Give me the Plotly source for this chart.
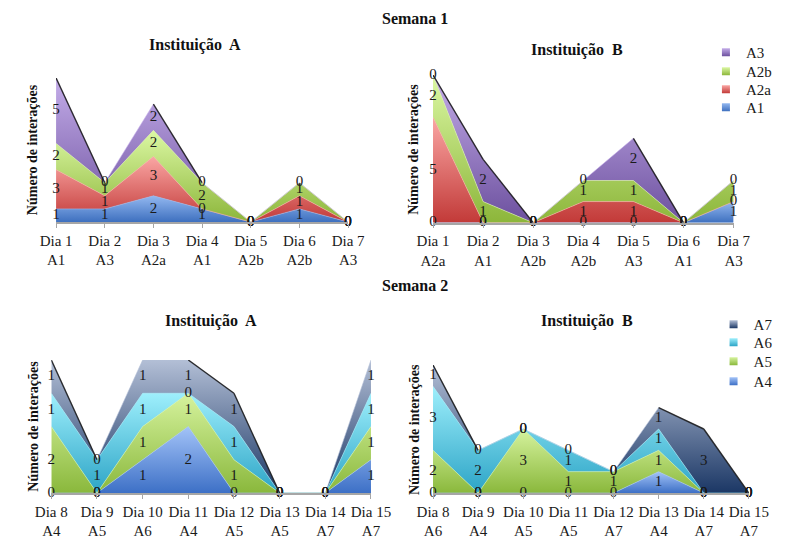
import plotly.graph_objects as go

# ---- categories ----
week1_days = ["Dia 1", "Dia 2", "Dia 3", "Dia 4", "Dia 5", "Dia 6", "Dia 7"]
week1_acts_a = ["A1", "A3", "A2a", "A1", "A2b", "A2b", "A3"]
week1_acts_b = ["A2a", "A1", "A2b", "A2b", "A3", "A1", "A3"]

week2_days = ["Dia 8", "Dia 9", "Dia 10", "Dia 11", "Dia 12", "Dia 13", "Dia 14", "Dia 15"]
week2_acts_a = ["A4", "A5", "A6", "A4", "A5", "A5", "A7", "A7"]
week2_acts_b = ["A6", "A4", "A5", "A5", "A7", "A4", "A7", "A7"]

# ---- Semana 1 series ----
week1_series = ["A1", "A2a", "A2b", "A3"]
w1_a_A1 = [1, 1, 2, 1, 0, 1, 0]
w1_a_A2a = [3, 1, 3, 0, 0, 1, 0]
w1_a_A2b = [2, 1, 2, 2, 0, 1, 0]
w1_a_A3 = [5, 0, 2, 0, 0, 0, 0]

w1_b_A1 = [0, 0, 0, 0, 0, 0, 1]
w1_b_A2a = [5, 0, 0, 1, 1, 0, 0]
w1_b_A2b = [2, 1, 0, 1, 1, 0, 1]
w1_b_A3 = [0, 2, 0, 0, 2, 0, 0]

# ---- Semana 2 series ----
week2_series = ["A4", "A5", "A6", "A7"]
w2_a_A4 = [0, 0, 1, 2, 0, 0, 0, 1]
w2_a_A5 = [2, 0, 1, 1, 1, 0, 0, 1]
w2_a_A6 = [1, 1, 1, 0, 1, 0, 0, 1]
w2_a_A7 = [1, 0, 1, 1, 1, 0, 0, 1]

w2_b_A4 = [0, 0, 0, 0, 0, 1, 0, 0]
w2_b_A5 = [2, 0, 3, 1, 1, 1, 0, 0]
w2_b_A6 = [3, 2, 0, 1, 0, 1, 0, 0]
w2_b_A7 = [1, 0, 0, 0, 0, 1, 3, 0]

# gradient colours per series: (dark bottom, light top)
week1_colors = [("#3e70bf", "#93b8f0"), ("#c23a38", "#faa6a4"),
                ("#8cb63a", "#dcf8a4"), ("#6c509e", "#c4ade9")]
week2_colors = [("#3d70c6", "#a3c3f8"), ("#8ab83c", "#d6f39e"),
                ("#2ca4c6", "#9eeffc"), ("#1b3765", "#b3bfd6")]

SERIF = "'Liberation Serif', 'Times New Roman', 'DejaVu Serif', serif"
W, H = 787, 539

fig = go.Figure()


def px_x(p):
    return p / W


def px_y(p):
    return 1 - p / H


panels = [
    dict(ax="", days=week1_days, acts=week1_acts_a, names=week1_series,
         values=[w1_a_A1, w1_a_A2a, w1_a_A2b, w1_a_A3], colors=week1_colors,
         xdom=(42, 348), ydom=(222, 78), ytitle_x=18, legend=None),
    dict(ax="2", days=week1_days, acts=week1_acts_b, names=week1_series,
         values=[w1_b_A1, w1_b_A2a, w1_b_A2b, w1_b_A3], colors=week1_colors,
         xdom=(437, 752), ydom=(222.7, 75), ytitle_x=417,
         legend=dict(x=723, ys=[108, 90, 72, 53])),
    dict(ax="3", days=week2_days, acts=week2_acts_a, names=week2_series,
         values=[w2_a_A4, w2_a_A5, w2_a_A6, w2_a_A7], colors=week2_colors,
         xdom=(37, 372), ydom=(493, 360), ytitle_x=18, legend=None),
    dict(ax="4", days=week2_days, acts=week2_acts_b, names=week2_series,
         values=[w2_b_A4, w2_b_A5, w2_b_A6, w2_b_A7], colors=week2_colors,
         xdom=(437, 768), ydom=(493, 365), ytitle_x=417,
         legend=dict(x=731, ys=[382, 362, 343, 325])),
]

legend_style = dict(font=dict(family=SERIF, size=15, color="#1a1a1a"),
                    bgcolor="rgba(0,0,0,0)", itemwidth=30,
                    xanchor="left", yanchor="top")
legend_layouts = {}
annotations = []
legend_count = 0

for p in panels:
    xa, ya = "x" + p["ax"], "y" + p["ax"]
    n = len(p["days"])
    xs = list(range(n))
    group = "stack" + (p["ax"] or "1")
    cum = [0] * n
    lab_x, lab_y, lab_t = [], [], []
    for name, vals, (dark, light) in zip(p["names"], p["values"], p["colors"]):
        fig.add_trace(go.Scatter(
            x=xs, y=vals, stackgroup=group, mode="lines",
            line=dict(width=0.6, color=light),
            fillgradient=dict(type="vertical",
                              colorscale=[[0, dark], [1, light]]),
            name=name, showlegend=False, hoverinfo="skip",
            xaxis=xa, yaxis=ya))
        for i, v in enumerate(vals):
            lab_x.append(i)
            lab_y.append(cum[i] + v / 2)
            lab_t.append(str(v))
            cum[i] += v

    # drop-shadow edge on the falling parts of the top series
    top_vals = p["values"][-1]
    sx, sy = [], []
    for i in range(n - 1):
        if cum[i + 1] < cum[i] and (top_vals[i] or top_vals[i + 1]):
            sx += [i, i + 1, None]
            sy += [cum[i], cum[i + 1], None]
    fig.add_trace(go.Scatter(
        x=sx, y=sy, mode="lines", line=dict(color="rgba(15,15,15,0.85)", width=1.4),
        showlegend=False, hoverinfo="skip", xaxis=xa, yaxis=ya))

    # value labels centred in each band
    fig.add_trace(go.Scatter(
        x=lab_x, y=lab_y, text=lab_t, mode="text", cliponaxis=False,
        textfont=dict(family=SERIF, size=15, color="#1a1a1a"),
        showlegend=False, hoverinfo="skip", xaxis=xa, yaxis=ya))

    # legend: one single-entry legend per series
    if p["legend"]:
        for name, (dark, light), ly in zip(p["names"], p["colors"], p["legend"]["ys"]):
            legend_count += 1
            lname = "legend" if legend_count == 1 else f"legend{legend_count}"
            fig.add_trace(go.Scatter(
                x=[None], y=[None], mode="markers", name=name,
                marker=dict(symbol="square", size=8, color=light,
                            gradient=dict(type="vertical", color=dark),
                            line=dict(width=0)),
                legend=lname, xaxis=xa, yaxis=ya))
            legend_layouts[lname] = dict(x=px_x(p["legend"]["x"]),
                                         y=px_y(ly - 17), **legend_style)

    key = p["ax"]
    fig.update_layout(**{
        "xaxis" + key: dict(
            domain=[px_x(p["xdom"][0]), px_x(p["xdom"][1])],
            range=[0, n - 1], tickvals=xs,
            ticktext=[f"{d}<br>{a}" for d, a in zip(p["days"], p["acts"])],
            showgrid=False, zeroline=False, showline=True,
            linecolor="#a6a6a6", linewidth=1.5,
            ticks="outside", ticklen=4, tickcolor="#a6a6a6",
            tickfont=dict(family=SERIF, size=15, color="#1a1a1a"),
            anchor=ya, fixedrange=True),
        "yaxis" + key: dict(
            domain=[px_y(p["ydom"][0]), px_y(p["ydom"][1])],
            range=[0, max(cum)], showticklabels=False, showgrid=False,
            zeroline=False, showline=False,
            anchor=xa, fixedrange=True),
    })

    # rotated y-axis caption
    annotations.append(dict(
        text="Número de interações", textangle=-90,
        x=px_x(p["ytitle_x"]), y=px_y((p["ydom"][0] + p["ydom"][1]) / 2),
        font=dict(family=SERIF, size=14, color="#111", weight="bold")))

title_font = dict(family=SERIF, size=16, color="#111", weight="bold")
for text, x, y in [("Semana 1", 418, 18), ("Instituição  A", 188, 45),
                   ("Instituição  B", 588, 50), ("Semana 2", 418, 285),
                   ("Instituição  A", 204, 321), ("Instituição  B", 598, 321)]:
    annotations.append(dict(text=text, x=px_x(x), y=px_y(y), font=title_font))

for a in annotations:
    a.update(xref="paper", yref="paper", showarrow=False,
             xanchor="center", yanchor="middle")

fig.update_layout(
    width=W, height=H,
    margin=dict(l=0, r=0, t=0, b=0),
    paper_bgcolor="white", plot_bgcolor="white",
    annotations=annotations,
    hovermode=False,
    **legend_layouts,
)

fig.write_html("out.html")
